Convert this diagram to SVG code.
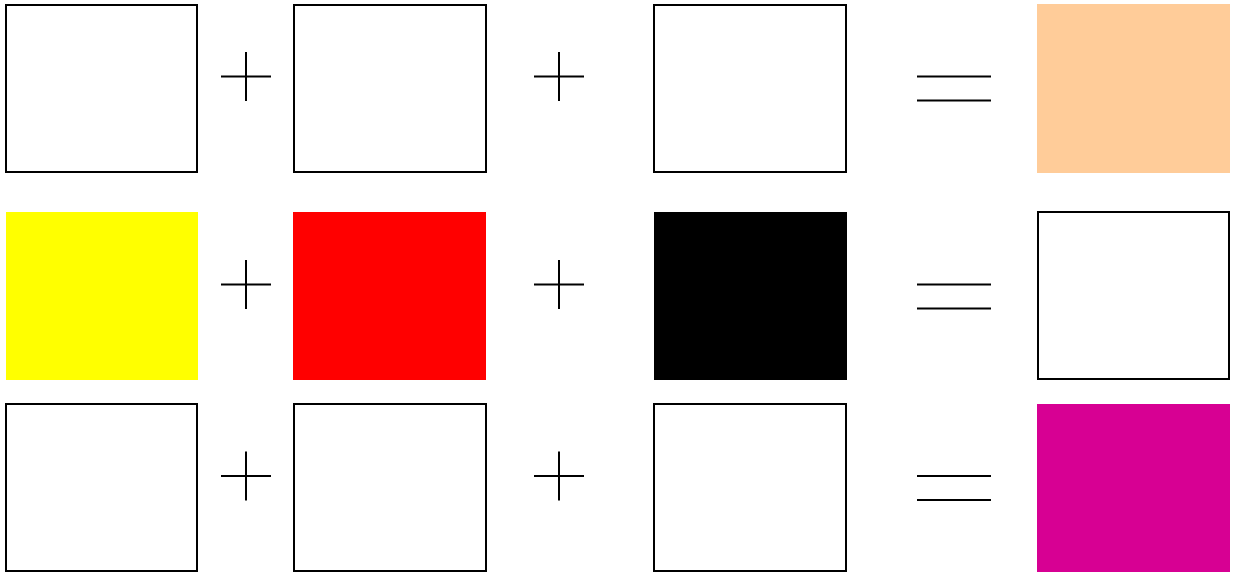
<svg xmlns="http://www.w3.org/2000/svg" width="1235" height="573" viewBox="0 0 1235 573">
<style>
.box{fill:#ffffff;stroke:#000000;stroke-width:2}
.op{stroke:#000000;stroke-width:2;fill:none}
</style>
<rect width="1235" height="573" fill="#ffffff"/>
<defs>
<g id="plus"><line class="op" x1="-25" y1="0" x2="25" y2="0"/><line class="op" x1="0" y1="-24.5" x2="0" y2="24.5"/></g>
<g id="eq"><line class="op" x1="0" y1="0" x2="74" y2="0"/><line class="op" x1="0" y1="24" x2="74" y2="24"/></g>
</defs>
<!-- row 1 -->
<g id="r1c1"><rect class="box" x="6" y="5" width="191" height="167"/></g>
<g id="r1c2"><rect class="box" x="294" y="5" width="192" height="167"/></g>
<g id="r1c3"><rect class="box" x="654" y="5" width="192" height="167"/></g>
<g id="r1c4"><rect x="1037" y="4" width="193" height="169" fill="#FFCC99"/></g>
<!-- row 2 -->
<g id="r2c1"><rect x="6" y="212" width="192" height="168" fill="#FFFF00"/></g>
<g id="r2c2"><rect x="293" y="212" width="193" height="168" fill="#FF0000"/></g>
<g id="r2c3"><rect x="654" y="212" width="193" height="168" fill="#000000"/></g>
<g id="r2c4"><rect class="box" x="1038" y="212" width="191" height="167"/></g>
<!-- row 3 -->
<g id="r3c1"><rect class="box" x="6" y="404" width="191" height="167"/></g>
<g id="r3c2"><rect class="box" x="294" y="404" width="192" height="167"/></g>
<g id="r3c3"><rect class="box" x="654" y="404" width="192" height="167"/></g>
<g id="r3c4"><rect x="1037" y="404" width="193" height="168" fill="#D70093"/></g>
<!-- operators -->
<g id="operators">
<use href="#plus" x="246" y="76.5"/>
<use href="#plus" x="559" y="76.5"/>
<use href="#eq" x="917" y="76.5"/>
<use href="#plus" x="246" y="284.5"/>
<use href="#plus" x="559" y="284.5"/>
<use href="#eq" x="917" y="284.5"/>
<use href="#plus" x="246" y="476"/>
<use href="#plus" x="559" y="476"/>
<use href="#eq" x="917" y="476"/>
</g>
</svg>
